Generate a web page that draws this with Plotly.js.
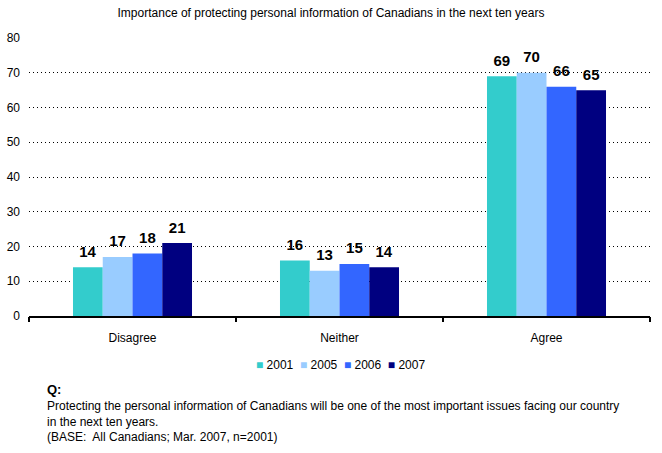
<!DOCTYPE html>
<html><head><meta charset="utf-8">
<script src="https://cdn.plot.ly/plotly-3.0.1.min.js"></script>
<style>body{margin:0;background:#fff}#c{width:662px;height:453px}</style>
</head><body><div id="c"></div>
<script>
var categories = ["Disagree", "Neither", "Agree"];
var years = ["2001", "2005", "2006", "2007"];
var v2001 = [14, 16, 69];
var v2005 = [17, 13, 70];
var v2006 = [18, 15, 66];
var v2007 = [21, 14, 65];
var colors = ["#33CCCC", "#99CCFF", "#3366FF", "#000080"];
var series = [v2001, v2005, v2006, v2007];
var yTicks = [0, 10, 20, 30, 40, 50, 60, 70, 80];

var traces = series.map(function (vals, i) {
  return {
    type: "bar", x: categories, y: vals, name: years[i],
    marker: {color: colors[i]},
    texttemplate: "<span style='font-size:15px'><b>%{y}</b></span><br> ", textposition: "outside",
    textfont: {family: "Liberation Sans, Arial", size: 5, color: "#000"},
    cliponaxis: false, hoverinfo: "none", showlegend: false
  };
});
traces.push({type: "scatter", x: [-0.5, 2.5], y: [0, 0], xaxis: "x2", mode: "none", showlegend: false, hoverinfo: "none"});

var legendText = years.map(function (yr, i) {
  return "<span style='color:" + colors[i] + "'>■</span> " + yr;
}).join("&nbsp;&nbsp;");

var layout = {
  width: 662, height: 453,
  margin: {l: 29, r: 12, t: 38, b: 137},
  paper_bgcolor: "#fff", plot_bgcolor: "#fff",
  font: {family: "Liberation Sans, Arial", size: 12, color: "#000"},
  title: {text: "Importance of protecting personal information of Canadians in the next ten years",
    font: {family: "Liberation Sans, Arial", size: 12, color: "#000"},
    x: 0.5, xanchor: "center", y: 0.972, yanchor: "middle"},
  barmode: "group", bargap: 0.425, bargroupgap: 0,
  xaxis: {showgrid: false, showline: true, linecolor: "#000", linewidth: 1.5, ticks: "",
    tickfont: {size: 12}, fixedrange: true, zeroline: false, ticklabelstandoff: 10},
  xaxis2: {overlaying: "x", range: [-0.5, 2.5], tickvals: [-0.5, 0.5, 1.5, 2.5], showticklabels: false,
    ticks: "outside", ticklen: 5, tickcolor: "#000", tickwidth: 1.5, showgrid: false, zeroline: false, side: "bottom", showline: false},
  yaxis: {range: [0, 80], tickvals: yTicks, showgrid: true, gridcolor: "#000", griddash: "1px,3px", gridwidth: 1,
    zeroline: false, showline: false, ticks: "", tickfont: {size: 12}, ticklabelstandoff: 8},
  showlegend: false,
  annotations: [
    {text: legendText, xref: "paper", yref: "paper", x: 0.502, y: -0.175, xanchor: "center", yanchor: "middle", showarrow: false, font: {size: 12}},
    {text: "<b>Q:</b>", xref: "paper", yref: "paper", x: 0.026, y: -0.265, xanchor: "left", yanchor: "middle", showarrow: false, font: {size: 13}},
    {text: "Protecting the personal information of Canadians will be one of the most important issues facing our country<br>in the next ten years.<br>(BASE:  All Canadians; Mar. 2007, n=2001)",
     xref: "paper", yref: "paper", x: 0.026, y: -0.29, xanchor: "left", yanchor: "top", align: "left", showarrow: false,
     font: {family: "Liberation Sans, Arial", size: 12}}
  ]
};
Plotly.newPlot("c", traces, layout, {displayModeBar: false, staticPlot: true});
</script></body></html>
